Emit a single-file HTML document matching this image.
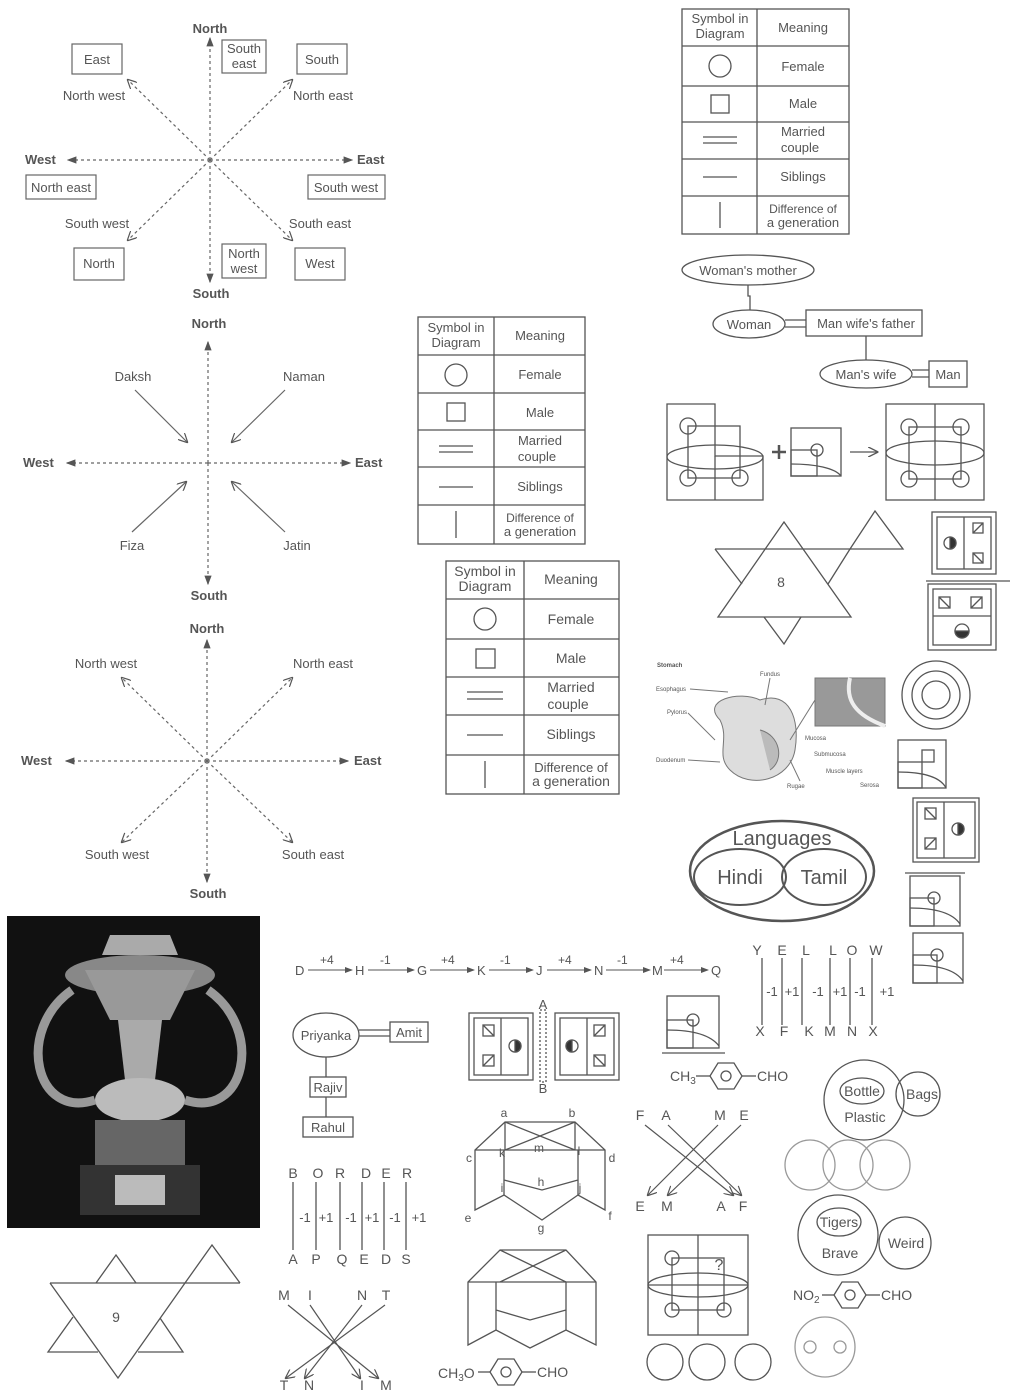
<!DOCTYPE html>
<html><head><meta charset="utf-8"><style>
html,body{margin:0;padding:0;background:#fff}
svg{display:block}
text{font-family:"Liberation Sans",sans-serif;fill:#555}
</style></head><body>
<svg width="1011" height="1399" viewBox="0 0 1011 1399" xmlns="http://www.w3.org/2000/svg">
<defs>
<marker id="a" markerWidth="8" markerHeight="8" refX="7" refY="4" orient="auto"><path d="M0,1 L8,4 L0,7 Z" fill="#555"/></marker>
<marker id="o" markerWidth="8" markerHeight="8" refX="7" refY="4" orient="auto"><path d="M0,0 L8,4 L0,8" fill="none" stroke="#555"/></marker>
</defs>
<rect width="1011" height="1399" fill="#fff"/>
<g stroke="#666" stroke-width="1.2" fill="none">
<g stroke-dasharray="3,3">
<line x1="210" y1="160" x2="210" y2="38" marker-end="url(#a)"/>
<line x1="210" y1="160" x2="210" y2="282" marker-end="url(#a)"/>
<line x1="210" y1="160" x2="68" y2="160" marker-end="url(#a)"/>
<line x1="210" y1="160" x2="352" y2="160" marker-end="url(#a)"/>
<line x1="210" y1="160" x2="128" y2="80" marker-end="url(#o)"/>
<line x1="210" y1="160" x2="292" y2="80" marker-end="url(#o)"/>
<line x1="210" y1="160" x2="128" y2="240" marker-end="url(#o)"/>
<line x1="210" y1="160" x2="292" y2="240" marker-end="url(#o)"/>
</g>
<rect x="72" y="44" width="50" height="30"/><rect x="222" y="40" width="44" height="33"/>
<rect x="297" y="44" width="50" height="30"/><rect x="26" y="175" width="70" height="24"/>
<rect x="308" y="175" width="77" height="24"/><rect x="74" y="248" width="50" height="32"/>
<rect x="222" y="244" width="44" height="34"/><rect x="295" y="248" width="50" height="32"/>
<g stroke-dasharray="3,3">
<line x1="208" y1="463" x2="208" y2="342" marker-end="url(#a)"/>
<line x1="208" y1="463" x2="208" y2="584" marker-end="url(#a)"/>
<line x1="208" y1="463" x2="67" y2="463" marker-end="url(#a)"/>
<line x1="208" y1="463" x2="350" y2="463" marker-end="url(#a)"/>
</g>
<line x1="135" y1="390" x2="187" y2="442" marker-end="url(#o)"/>
<line x1="285" y1="390" x2="232" y2="442" marker-end="url(#o)"/>
<line x1="132" y1="532" x2="186" y2="482" marker-end="url(#o)"/>
<line x1="285" y1="532" x2="232" y2="482" marker-end="url(#o)"/>
<g stroke-dasharray="3,3">
<line x1="207" y1="761" x2="207" y2="640" marker-end="url(#a)"/>
<line x1="207" y1="761" x2="207" y2="882" marker-end="url(#a)"/>
<line x1="207" y1="761" x2="66" y2="761" marker-end="url(#a)"/>
<line x1="207" y1="761" x2="348" y2="761" marker-end="url(#a)"/>
<line x1="207" y1="761" x2="122" y2="678" marker-end="url(#o)"/>
<line x1="207" y1="761" x2="292" y2="678" marker-end="url(#o)"/>
<line x1="207" y1="761" x2="122" y2="842" marker-end="url(#o)"/>
<line x1="207" y1="761" x2="292" y2="842" marker-end="url(#o)"/>
</g>
</g>
<g font-size="13">
<text x="210" y="33" text-anchor="middle" font-weight="bold">North</text>
<text x="211" y="298" text-anchor="middle" font-weight="bold">South</text>
<text x="25" y="164" font-weight="bold">West</text>
<text x="357" y="164" font-weight="bold">East</text>
<text x="97" y="64" text-anchor="middle">East</text>
<text x="244" y="53" text-anchor="middle">South</text><text x="244" y="68" text-anchor="middle">east</text>
<text x="322" y="64" text-anchor="middle">South</text>
<text x="61" y="192" text-anchor="middle">North east</text>
<text x="346" y="192" text-anchor="middle">South west</text>
<text x="99" y="268" text-anchor="middle">North</text>
<text x="244" y="258" text-anchor="middle">North</text><text x="244" y="273" text-anchor="middle">west</text>
<text x="320" y="268" text-anchor="middle">West</text>
<text x="94" y="100" text-anchor="middle">North west</text>
<text x="323" y="100" text-anchor="middle">North east</text>
<text x="97" y="228" text-anchor="middle">South west</text>
<text x="320" y="228" text-anchor="middle">South east</text>
<text x="209" y="328" text-anchor="middle" font-weight="bold">North</text>
<text x="209" y="600" text-anchor="middle" font-weight="bold">South</text>
<text x="23" y="467" font-weight="bold">West</text>
<text x="355" y="467" font-weight="bold">East</text>
<text x="133" y="381" text-anchor="middle">Daksh</text>
<text x="304" y="381" text-anchor="middle">Naman</text>
<text x="132" y="550" text-anchor="middle">Fiza</text>
<text x="297" y="550" text-anchor="middle">Jatin</text>
<text x="207" y="633" text-anchor="middle" font-weight="bold">North</text>
<text x="208" y="898" text-anchor="middle" font-weight="bold">South</text>
<text x="21" y="765" font-weight="bold">West</text>
<text x="354" y="765" font-weight="bold">East</text>
<text x="106" y="668" text-anchor="middle">North west</text>
<text x="323" y="668" text-anchor="middle">North east</text>
<text x="117" y="859" text-anchor="middle">South west</text>
<text x="313" y="859" text-anchor="middle">South east</text>
</g>

<rect x="7" y="916" width="253" height="312" fill="#111"/>
<g>
<path d="M110 935 L170 935 L178 955 L102 955 Z" fill="#aaa"/>
<ellipse cx="140" cy="975" rx="75" ry="20" fill="#888"/>
<path d="M85 970 L195 970 L170 1020 L110 1020 Z" fill="#999"/>
<path d="M118 1020 L162 1020 L155 1080 L125 1080 Z" fill="#aaa"/>
<ellipse cx="140" cy="1100" rx="45" ry="22" fill="#bbb"/>
<rect x="95" y="1120" width="90" height="45" fill="#666"/>
<rect x="80" y="1165" width="120" height="50" fill="#333"/>
<rect x="115" y="1175" width="50" height="30" fill="#bbb"/>
<path d="M72 990 C15 1030 35 1120 95 1100" stroke="#999" stroke-width="9" fill="none"/>
<path d="M208 990 C265 1030 245 1120 185 1100" stroke="#999" stroke-width="9" fill="none"/>
</g>

<g stroke="#555" stroke-width="1.3" fill="none">
<rect x="682" y="9" width="167" height="225"/><line x1="757" y1="9" x2="757" y2="234"/>
<line x1="682" y1="46" x2="849" y2="46"/><line x1="682" y1="86" x2="849" y2="86"/><line x1="682" y1="122" x2="849" y2="122"/><line x1="682" y1="159" x2="849" y2="159"/><line x1="682" y1="196" x2="849" y2="196"/>
<circle cx="720" cy="66" r="11"/><rect x="711" y="95" width="18" height="18"/>
<line x1="703" y1="137" x2="737" y2="137"/><line x1="703" y1="143" x2="737" y2="143"/><line x1="703" y1="177" x2="737" y2="177"/><line x1="720" y1="202" x2="720" y2="228"/>

<rect x="418" y="317" width="167" height="227"/><line x1="494" y1="317" x2="494" y2="544"/>
<line x1="418" y1="355" x2="585" y2="355"/><line x1="418" y1="393" x2="585" y2="393"/><line x1="418" y1="430" x2="585" y2="430"/><line x1="418" y1="467" x2="585" y2="467"/><line x1="418" y1="505" x2="585" y2="505"/>
<circle cx="456" cy="375" r="11"/><rect x="447" y="403" width="18" height="18"/>
<line x1="439" y1="446" x2="473" y2="446"/><line x1="439" y1="452" x2="473" y2="452"/><line x1="439" y1="487" x2="473" y2="487"/><line x1="456" y1="511" x2="456" y2="538"/>

<rect x="446" y="561" width="173" height="233"/><line x1="524" y1="561" x2="524" y2="794"/>
<line x1="446" y1="599" x2="619" y2="599"/><line x1="446" y1="639" x2="619" y2="639"/><line x1="446" y1="677" x2="619" y2="677"/><line x1="446" y1="715" x2="619" y2="715"/><line x1="446" y1="755" x2="619" y2="755"/>
<circle cx="485" cy="619" r="11"/><rect x="476" y="649" width="19" height="19"/>
<line x1="467" y1="692" x2="503" y2="692"/><line x1="467" y1="699" x2="503" y2="699"/><line x1="467" y1="735" x2="503" y2="735"/><line x1="485" y1="761" x2="485" y2="788"/>
</g>
<g font-size="13" text-anchor="middle">
<text x="720" y="23">Symbol in</text><text x="720" y="38">Diagram</text><text x="803" y="32">Meaning</text>
<text x="803" y="71">Female</text><text x="803" y="108">Male</text><text x="803" y="136">Married</text><text x="800" y="152">couple</text>
<text x="803" y="181">Siblings</text><text x="803" y="213" font-size="12">Difference of</text><text x="803" y="227">a generation</text>
<text x="456" y="332">Symbol in</text><text x="456" y="347">Diagram</text><text x="540" y="340">Meaning</text>
<text x="540" y="379">Female</text><text x="540" y="417">Male</text><text x="540" y="445">Married</text><text x="537" y="461">couple</text>
<text x="540" y="491">Siblings</text><text x="540" y="522" font-size="12">Difference of</text><text x="540" y="536">a generation</text>
<text x="485" y="576" font-size="14">Symbol in</text><text x="485" y="591" font-size="14">Diagram</text><text x="571" y="584" font-size="14">Meaning</text>
<text x="571" y="624" font-size="14">Female</text><text x="571" y="663" font-size="14">Male</text><text x="571" y="692" font-size="14">Married</text><text x="568" y="709" font-size="14">couple</text>
<text x="571" y="739" font-size="14">Siblings</text><text x="571" y="772">Difference of</text><text x="571" y="786" font-size="14">a generation</text>
</g>

<g stroke="#555" stroke-width="1.3" fill="none">
<ellipse cx="748" cy="270" rx="66" ry="15"/><path d="M748 285 V296 H750 V310"/>
<ellipse cx="749" cy="324" rx="36" ry="14"/>
<line x1="785" y1="320" x2="806" y2="320"/><line x1="785" y1="327" x2="806" y2="327"/>
<rect x="806" y="310" width="116" height="26"/><line x1="866" y1="336" x2="866" y2="360"/>
<ellipse cx="866" cy="374" rx="46" ry="14"/>
<line x1="912" y1="370" x2="929" y2="370"/><line x1="912" y1="377" x2="929" y2="377"/>
<rect x="929" y="361" width="38" height="26"/>
</g>
<g font-size="13" text-anchor="middle">
<text x="748" y="275">Woman's mother</text><text x="749" y="329">Woman</text>
<text x="866" y="328">Man wife's father</text><text x="866" y="379">Man's wife</text><text x="948" y="379">Man</text>
</g>

<g stroke="#555" stroke-width="1.3" fill="none">
<path d="M667 404 H715 V456 H763 V500 H667 Z"/><line x1="715" y1="456" x2="715" y2="500"/>
<rect x="688" y="426" width="52" height="52"/>
<ellipse cx="715" cy="457" rx="48" ry="12"/>
<circle cx="688" cy="426" r="8"/><circle cx="688" cy="478" r="8"/><circle cx="740" cy="478" r="8"/>
<line x1="779" y1="445" x2="779" y2="459" stroke-width="2.5"/><line x1="772" y1="452" x2="786" y2="452" stroke-width="2.5"/>
<rect x="791" y="428" width="50" height="48"/><rect x="791" y="450" width="26" height="26"/><circle cx="817" cy="450" r="6"/><path d="M791 464 C815 464 835 468 841 476"/>
<line x1="850" y1="452" x2="877" y2="452" marker-end="url(#o)"/>
<rect x="886" y="404" width="98" height="96"/><line x1="935" y1="404" x2="935" y2="500"/>
<rect x="909" y="427" width="52" height="52"/><ellipse cx="935" cy="453" rx="49" ry="12"/>
<circle cx="909" cy="427" r="8"/><circle cx="961" cy="427" r="8"/><circle cx="909" cy="479" r="8"/><circle cx="961" cy="479" r="8"/>
<path d="M784 522 L851 617 L718 617 Z"/>
<path d="M715 549 L903 549 L875 511 L850 549"/>
<path d="M715 549 L742 584"/><path d="M828 584 L850 549"/>
<path d="M764 617 L784 644 L801 617"/>
<rect x="932" y="512" width="64" height="62"/><rect x="937" y="517" width="54" height="52"/><line x1="964" y1="517" x2="964" y2="569"/>
<rect x="973" y="523" width="10" height="10"/><line x1="973" y1="533" x2="983" y2="523"/><rect x="973" y="553" width="10" height="10"/><line x1="973" y1="553" x2="983" y2="563"/>
<circle cx="950" cy="543" r="6"/><path d="M950 537 A6 6 0 0 1 950 549 Z" fill="#333"/>
<line x1="926" y1="581" x2="1010" y2="581"/>
<rect x="928" y="584" width="68" height="66"/><rect x="933" y="589" width="58" height="56"/><line x1="933" y1="616" x2="991" y2="616"/>
<rect x="939" y="597" width="11" height="11"/><line x1="939" y1="597" x2="950" y2="608"/><rect x="971" y="597" width="11" height="11"/><line x1="971" y1="608" x2="982" y2="597"/>
<circle cx="962" cy="631" r="7"/><path d="M955 631 A7 7 0 0 0 969 631 Z" fill="#333"/>
</g>
<text x="781" y="587" font-size="14" text-anchor="middle">8</text>

<g stroke="#777" fill="none" stroke-width="1">
<path d="M720 720 C700 700 740 690 760 700 C790 690 800 720 795 750 C790 780 750 790 730 770 C715 755 730 740 720 720 Z" fill="#ddd"/>
<path d="M760 730 C780 735 785 760 770 770" fill="#bbb"/>
<rect x="815" y="678" width="70" height="48" fill="#999"/>
<path d="M850 678 C845 700 855 715 885 726" stroke="#eee" stroke-width="4"/>
<line x1="690" y1="689" x2="728" y2="692"/><line x1="688" y1="713" x2="715" y2="740"/><line x1="688" y1="760" x2="720" y2="762"/>
<line x1="770" y1="678" x2="765" y2="705"/><line x1="800" y1="781" x2="790" y2="760"/><line x1="790" y1="740" x2="815" y2="700"/>
</g>
<g font-size="6" fill="#333"><text x="657" y="667" font-weight="bold">Stomach</text><text x="656" y="691">Esophagus</text><text x="667" y="714">Pylorus</text><text x="656" y="762">Duodenum</text><text x="760" y="676">Fundus</text><text x="787" y="788">Rugae</text><text x="805" y="740">Mucosa</text><text x="814" y="756">Submucosa</text><text x="826" y="773">Muscle layers</text><text x="860" y="787">Serosa</text></g>

<g stroke="#555" stroke-width="1.3" fill="none">
<circle cx="936" cy="695" r="34"/><circle cx="936" cy="695" r="24"/><circle cx="936" cy="695" r="14"/>
<rect x="898" y="740" width="48" height="48"/><rect x="898" y="762" width="24" height="26"/><rect x="922" y="750" width="12" height="12"/><path d="M898 772 C920 772 940 776 946 788"/>
<rect x="913" y="798" width="66" height="64"/><rect x="917" y="802" width="58" height="56"/><line x1="944" y1="802" x2="944" y2="858"/>
<rect x="925" y="808" width="11" height="11"/><line x1="925" y1="808" x2="936" y2="819"/><rect x="925" y="838" width="11" height="11"/><line x1="925" y1="849" x2="936" y2="838"/>
<circle cx="958" cy="829" r="6"/><path d="M958 823 A6 6 0 0 1 958 835 Z" fill="#333"/>
<ellipse cx="782" cy="871" rx="92" ry="50" stroke-width="2.5"/>
<ellipse cx="740" cy="877" rx="46" ry="28" stroke-width="2"/><ellipse cx="824" cy="877" rx="42" ry="28" stroke-width="2"/>
<line x1="905" y1="873" x2="965" y2="873"/>
<rect x="910" y="876" width="50" height="50"/><rect x="910" y="898" width="24" height="28"/><circle cx="934" cy="898" r="6"/><path d="M910 908 C932 908 952 912 960 924"/>
<rect x="913" y="933" width="50" height="50"/><rect x="913" y="955" width="24" height="28"/><circle cx="937" cy="955" r="6"/><path d="M913 965 C935 965 955 969 963 981"/>
</g>
<g text-anchor="middle"><text x="782" y="845" font-size="20">Languages</text><text x="740" y="884" font-size="20">Hindi</text><text x="824" y="884" font-size="20">Tamil</text></g>

<g stroke="#555" stroke-width="1" fill="none">
<line x1="308" y1="970" x2="352" y2="970" marker-end="url(#a)"/><line x1="368" y1="970" x2="414" y2="970" marker-end="url(#a)"/>
<line x1="430" y1="970" x2="474" y2="970" marker-end="url(#a)"/><line x1="489" y1="970" x2="533" y2="970" marker-end="url(#a)"/>
<line x1="547" y1="970" x2="591" y2="970" marker-end="url(#a)"/><line x1="606" y1="970" x2="650" y2="970" marker-end="url(#a)"/>
<line x1="664" y1="970" x2="708" y2="970" marker-end="url(#a)"/>
</g>
<g font-size="13"><text x="295" y="975">D</text><text x="355" y="975">H</text><text x="417" y="975">G</text><text x="477" y="975">K</text><text x="536" y="975">J</text><text x="594" y="975">N</text><text x="652" y="975">M</text><text x="711" y="975">Q</text>
<g font-size="12"><text x="320" y="964">+4</text><text x="380" y="964">-1</text><text x="441" y="964">+4</text><text x="500" y="964">-1</text><text x="558" y="964">+4</text><text x="617" y="964">-1</text><text x="670" y="964">+4</text></g></g>

<g stroke="#555" stroke-width="1.3"><line x1="762" y1="958" x2="762" y2="1025"/><line x1="782" y1="958" x2="782" y2="1025"/><line x1="802" y1="958" x2="802" y2="1025"/><line x1="830" y1="958" x2="830" y2="1025"/><line x1="850" y1="958" x2="850" y2="1025"/><line x1="872" y1="958" x2="872" y2="1025"/></g>
<g font-size="14" text-anchor="middle"><text x="757" y="955">Y</text><text x="782" y="955">E</text><text x="806" y="955">L</text><text x="833" y="955">L</text><text x="852" y="955">O</text><text x="876" y="955">W</text>
<text x="760" y="1036">X</text><text x="784" y="1036">F</text><text x="809" y="1036">K</text><text x="830" y="1036">M</text><text x="852" y="1036">N</text><text x="873" y="1036">X</text>
<g font-size="13"><text x="772" y="996">-1</text><text x="792" y="996">+1</text><text x="818" y="996">-1</text><text x="840" y="996">+1</text><text x="860" y="996">-1</text><text x="887" y="996">+1</text></g></g>

<g stroke="#555" stroke-width="1.3" fill="none">
<ellipse cx="326" cy="1035" rx="33" ry="22"/>
<line x1="359" y1="1030" x2="390" y2="1030"/><line x1="359" y1="1036" x2="390" y2="1036"/>
<rect x="390" y="1022" width="38" height="20"/><line x1="326" y1="1057" x2="326" y2="1077"/>
<rect x="310" y="1077" width="36" height="20"/><line x1="326" y1="1097" x2="326" y2="1117"/>
<rect x="303" y="1117" width="50" height="20"/>
</g>
<g font-size="13" text-anchor="middle"><text x="326" y="1040">Priyanka</text><text x="409" y="1037">Amit</text><text x="328" y="1092">Rajiv</text><text x="328" y="1132">Rahul</text></g>

<g stroke="#555" stroke-width="1.3" fill="none">
<rect x="469" y="1013" width="64" height="67"/><rect x="474" y="1018" width="54" height="57"/><line x1="501" y1="1018" x2="501" y2="1075"/>
<rect x="483" y="1025" width="11" height="11"/><line x1="483" y1="1025" x2="494" y2="1036"/><rect x="483" y="1055" width="11" height="11"/><line x1="483" y1="1066" x2="494" y2="1055"/>
<circle cx="515" cy="1046" r="6"/><path d="M515 1040 A6 6 0 0 1 515 1052 Z" fill="#333"/>
<rect x="540" y="1010" width="6" height="72" stroke-dasharray="2,2"/>
<rect x="555" y="1013" width="64" height="67"/><rect x="560" y="1018" width="54" height="57"/><line x1="587" y1="1018" x2="587" y2="1075"/>
<rect x="594" y="1025" width="11" height="11"/><line x1="594" y1="1036" x2="605" y2="1025"/><rect x="594" y="1055" width="11" height="11"/><line x1="594" y1="1055" x2="605" y2="1066"/>
<circle cx="572" cy="1046" r="6"/><path d="M572 1040 A6 6 0 0 0 572 1052 Z" fill="#333"/>
<rect x="667" y="996" width="52" height="52"/><rect x="667" y="1020" width="26" height="28"/><circle cx="693" cy="1020" r="6"/><path d="M667 1030 C690 1030 710 1034 719 1046"/>
<line x1="662" y1="1053" x2="725" y2="1053"/>
</g>
<g font-size="13" text-anchor="middle"><text x="543" y="1009">A</text><text x="543" y="1093">B</text></g>

<g stroke="#555" stroke-width="1.3" fill="none">
<line x1="696" y1="1076" x2="710" y2="1076"/><polygon points="710,1076 718,1063 734,1063 742,1076 734,1089 718,1089"/><circle cx="726" cy="1076" r="5"/><line x1="742" y1="1076" x2="756" y2="1076"/>
<line x1="822" y1="1295" x2="834" y2="1295"/><polygon points="834,1295 842,1282 858,1282 866,1295 858,1308 842,1308"/><circle cx="850" cy="1295" r="5"/><line x1="866" y1="1295" x2="880" y2="1295"/>
<line x1="478" y1="1372" x2="490" y2="1372"/><polygon points="490,1372 498,1359 514,1359 522,1372 514,1385 498,1385"/><circle cx="506" cy="1372" r="5"/><line x1="522" y1="1372" x2="536" y2="1372"/>
</g>
<g font-size="14"><text x="670" y="1081">CH<tspan font-size="10" dy="3">3</tspan></text><text x="757" y="1081">CHO</text>
<text x="793" y="1300">NO<tspan font-size="10" dy="3">2</tspan></text><text x="881" y="1300">CHO</text>
<text x="438" y="1378">CH<tspan font-size="10" dy="3">3</tspan><tspan dy="-3">O</tspan></text><text x="537" y="1377">CHO</text></g>

<g stroke="#555" stroke-width="1.3" fill="none">
<circle cx="864" cy="1100" r="40"/><circle cx="918" cy="1094" r="22"/>
<ellipse cx="862" cy="1091" rx="22" ry="13"/>
<circle cx="810" cy="1165" r="25" stroke="#999"/><circle cx="848" cy="1165" r="25" stroke="#999"/><circle cx="885" cy="1165" r="25" stroke="#999"/>
<circle cx="838" cy="1235" r="40"/><circle cx="905" cy="1243" r="26"/><ellipse cx="839" cy="1222" rx="22" ry="14"/>
<circle cx="825" cy="1347" r="30" stroke="#999"/><circle cx="810" cy="1347" r="6" stroke="#999"/><circle cx="840" cy="1347" r="6" stroke="#999"/>
<circle cx="665" cy="1362" r="18"/><circle cx="707" cy="1362" r="18"/><circle cx="753" cy="1362" r="18"/>
</g>
<g font-size="14" text-anchor="middle"><text x="862" y="1096">Bottle</text><text x="865" y="1122">Plastic</text><text x="922" y="1099">Bags</text>
<text x="839" y="1227">Tigers</text><text x="840" y="1258">Brave</text><text x="906" y="1248">Weird</text></g>

<g stroke="#555" stroke-width="1.3"><line x1="293" y1="1182" x2="293" y2="1250"/><line x1="316" y1="1182" x2="316" y2="1250"/><line x1="340" y1="1182" x2="340" y2="1250"/><line x1="362" y1="1182" x2="362" y2="1250"/><line x1="384" y1="1182" x2="384" y2="1250"/><line x1="406" y1="1182" x2="406" y2="1250"/></g>
<g font-size="14" text-anchor="middle"><text x="293" y="1178">B</text><text x="318" y="1178">O</text><text x="340" y="1178">R</text><text x="366" y="1178">D</text><text x="386" y="1178">E</text><text x="407" y="1178">R</text>
<text x="293" y="1264">A</text><text x="316" y="1264">P</text><text x="342" y="1264">Q</text><text x="364" y="1264">E</text><text x="386" y="1264">D</text><text x="406" y="1264">S</text>
<g font-size="13"><text x="305" y="1222">-1</text><text x="326" y="1222">+1</text><text x="351" y="1222">-1</text><text x="372" y="1222">+1</text><text x="395" y="1222">-1</text><text x="419" y="1222">+1</text></g></g>

<g stroke="#555" stroke-width="1.3" fill="none">
<path d="M505 1122 L575 1122 L605 1150 L605 1210 L578 1195 L542 1220 L504 1195 L475 1210 L475 1150 Z"/>
<line x1="505" y1="1122" x2="575" y2="1150"/><line x1="575" y1="1122" x2="505" y2="1150"/>
<line x1="475" y1="1150" x2="605" y2="1150"/><line x1="505" y1="1122" x2="505" y2="1150"/><line x1="575" y1="1122" x2="575" y2="1150"/>
<path d="M504 1150 L504 1195 M578 1150 L578 1195 M504 1180 L542 1190 L578 1180"/>
<path d="M500 1250 L566 1250 L596 1282 L596 1345 L566 1330 L530 1348 L496 1330 L468 1345 L468 1282 Z"/>
<line x1="500" y1="1250" x2="566" y2="1282"/><line x1="566" y1="1250" x2="500" y2="1282"/><line x1="468" y1="1282" x2="596" y2="1282"/>
<path d="M496 1282 L496 1330 M566 1282 L566 1330 M496 1310 L530 1320 L566 1310"/>
</g>
<g font-size="12" text-anchor="middle"><text x="504" y="1117">a</text><text x="572" y="1117">b</text><text x="469" y="1162">c</text><text x="612" y="1162">d</text><text x="468" y="1222">e</text><text x="610" y="1220">f</text><text x="541" y="1232">g</text><text x="541" y="1186">h</text><text x="502" y="1192">i</text><text x="580" y="1192">j</text><text x="502" y="1157">k</text><text x="579" y="1155">l</text><text x="539" y="1152">m</text></g>

<g stroke="#555" stroke-width="1.2" fill="none">
<line x1="645" y1="1125" x2="733" y2="1195" marker-end="url(#o)"/><line x1="668" y1="1125" x2="741" y2="1195" marker-end="url(#o)"/>
<line x1="718" y1="1125" x2="648" y2="1195" marker-end="url(#o)"/><line x1="741" y1="1125" x2="668" y2="1195" marker-end="url(#o)"/>
<line x1="288" y1="1305" x2="378" y2="1378" marker-end="url(#o)"/><line x1="310" y1="1305" x2="360" y2="1378" marker-end="url(#o)"/>
<line x1="362" y1="1305" x2="305" y2="1378" marker-end="url(#o)"/><line x1="385" y1="1305" x2="286" y2="1378" marker-end="url(#o)"/>
</g>
<g font-size="14" text-anchor="middle"><text x="640" y="1120">F</text><text x="666" y="1120">A</text><text x="720" y="1120">M</text><text x="744" y="1120">E</text>
<text x="640" y="1211">E</text><text x="667" y="1211">M</text><text x="721" y="1211">A</text><text x="743" y="1211">F</text>
<text x="284" y="1300">M</text><text x="310" y="1300">I</text><text x="362" y="1300">N</text><text x="386" y="1300">T</text>
<text x="284" y="1390">T</text><text x="309" y="1390">N</text><text x="362" y="1390">I</text><text x="386" y="1390">M</text></g>

<g stroke="#555" stroke-width="1.3" fill="none">
<rect x="648" y="1235" width="100" height="100"/><line x1="698" y1="1235" x2="698" y2="1335"/><line x1="648" y1="1285" x2="748" y2="1285"/>
<rect x="672" y="1258" width="52" height="52"/><ellipse cx="698" cy="1285" rx="50" ry="12"/>
<circle cx="672" cy="1258" r="7"/><circle cx="672" cy="1310" r="7"/><circle cx="724" cy="1310" r="7"/>
</g>
<text x="719" y="1270" font-size="16" text-anchor="middle">?</text>

<!-- star 9 -->
<g stroke="#555" stroke-width="1.3" fill="none">
<path d="M50 1283 L240 1283"/>
<path d="M50 1283 L118 1378 L185 1283"/>
<path d="M96 1283 L116 1255 L136 1283"/>
<path d="M185 1283 L212 1245 L240 1283"/>
<path d="M73 1317 L48 1352 L98 1352"/>
<path d="M160 1318 L183 1352 L138 1352"/>
</g>
<text x="116" y="1322" font-size="14" text-anchor="middle">9</text>
</svg>
</body></html>
